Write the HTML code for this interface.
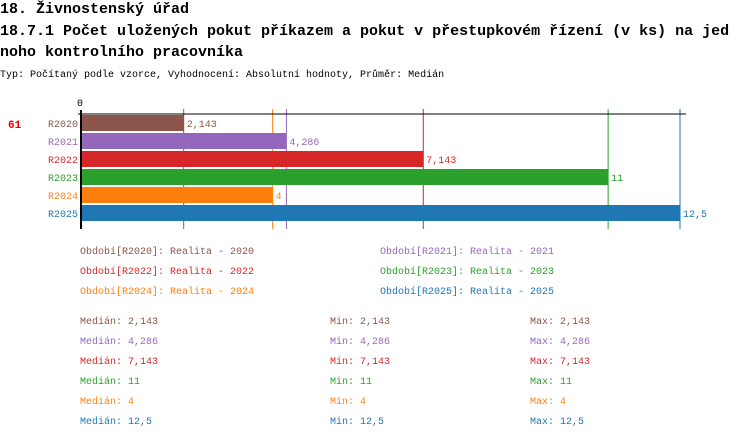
<!DOCTYPE html>
<html><head><meta charset="utf-8"><style>
body{margin:0;width:750px;height:438px;background:#fff;overflow:hidden;font-family:"Liberation Mono",monospace}
svg text{font-family:"Liberation Mono",monospace}
</style></head><body>
<svg width="750" height="438">
<text x="0" y="13" font-size="15" font-weight="bold">18. Živnostenský úřad</text>
<text x="0" y="35" font-size="15" font-weight="bold">18.7.1 Počet uložených pokut příkazem a pokut v přestupkovém řízení (v ks) na jed</text>
<text x="0" y="56" font-size="15" font-weight="bold">noho kontrolního pracovníka</text>
<text x="0" y="77" font-size="10">Typ: Počítaný podle vzorce, Vyhodnocení: Absolutní hodnoty, Průměr: Medián</text>
<text x="8" y="128" font-size="11" font-weight="bold" fill="#e00">61</text>
<text x="77" y="106" font-size="10">0</text>
<g id="g"></g>
</svg>
<script>
const cats=["R2020","R2021","R2022","R2023","R2024","R2025"];
const vals=[2.143,4.286,7.143,11,4,12.5];
const labels=["2,143","4,286","7,143","11","4","12,5"];
const colors=["#8c564b","#9467bd","#d62728","#2ca02c","#ff7f0e","#1f77b4"];
const legendNames=["Realita - 2020","Realita - 2021","Realita - 2022","Realita - 2023","Realita - 2024","Realita - 2025"];
const ns="http://www.w3.org/2000/svg",g=document.getElementById('g');
const x0=81,xs=599/12.5;const X=v=>x0+v*xs;
function mk(t,a,txt){const e=document.createElementNS(ns,t);for(const k in a)e.setAttribute(k,a[k]);if(txt!=null)e.textContent=txt;g.appendChild(e);return e;}
vals.forEach((v,i)=>{
 const l=mk('line',{x1:X(v),x2:X(v),y1:109,y2:229,stroke:colors[i],'stroke-width':1});
 
 
});
vals.forEach((v,i)=>{
 const y=115+i*18;
 const r=mk('rect',{x:x0,y:y,width:X(v)-x0,height:16,fill:colors[i]});
 
 
 const c=mk('text',{x:78,y:y+12,'font-size':10,fill:colors[i],'text-anchor':'end'},cats[i]);
 
 
 const t=mk('text',{x:X(v)+3,y:y+12,'font-size':10,fill:colors[i]},labels[i]);
 
 
 const lx=i%2?380:80,ly=254+Math.floor(i/2)*20;
 const lg=mk('text',{x:lx,y:ly,'font-size':10,fill:colors[i]},'Období['+cats[i]+']: '+legendNames[i]);
 
 
 const sy=324+i*20;
 [['Medián',80],['Min',330],['Max',530]].forEach(([n,sx])=>{
  const s=mk('text',{x:sx,y:sy,'font-size':10,fill:colors[i]},n+': '+labels[i]);
  
  
 });
});
const ax=mk('line',{x1:78,x2:686,y1:114,y2:114,stroke:'#000','stroke-width':1});


const ay=mk('line',{x1:81,x2:81,y1:110,y2:229,stroke:'#000','stroke-width':2});


</script>
</body></html>
